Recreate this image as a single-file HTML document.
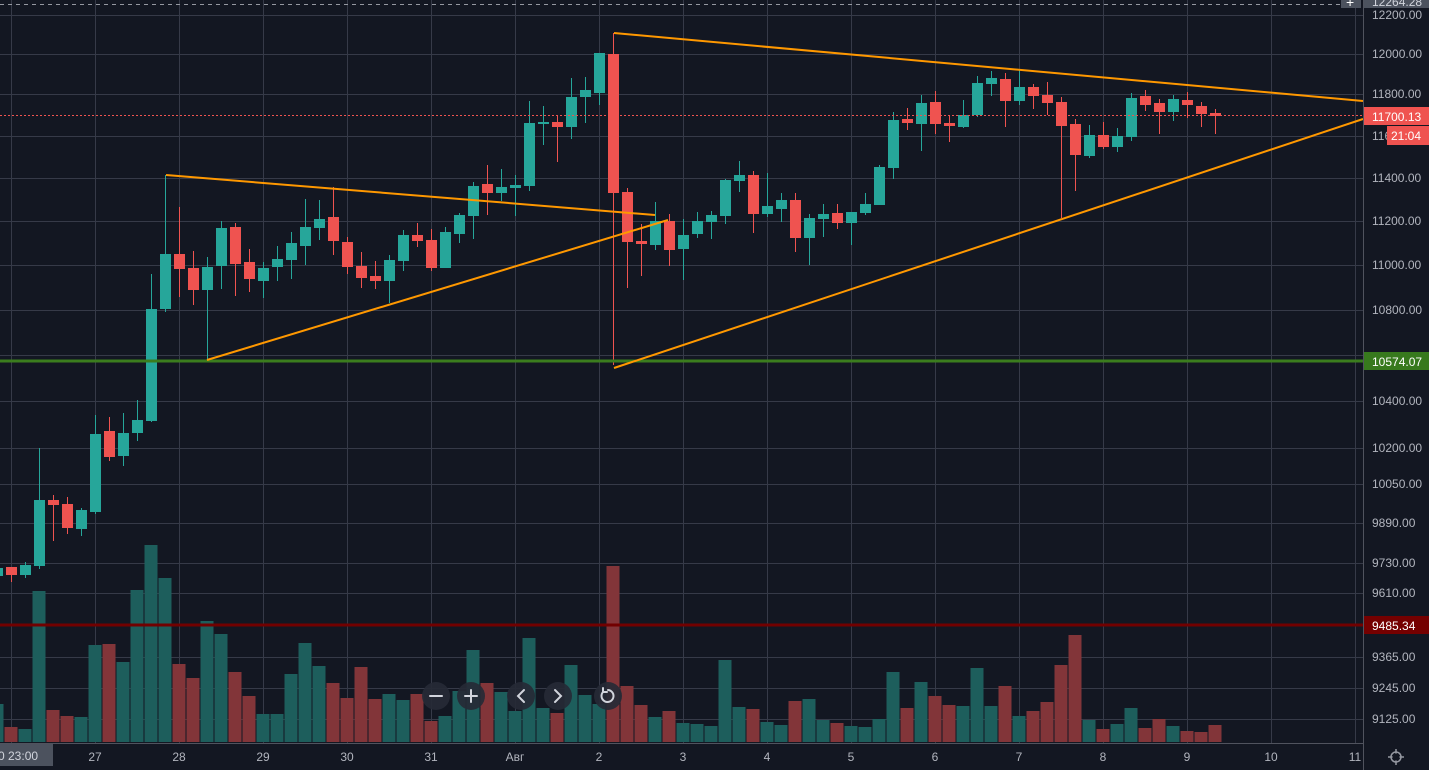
<!DOCTYPE html>
<html><head><meta charset="utf-8">
<style>
html,body{margin:0;padding:0;background:#131722;width:1429px;height:770px;overflow:hidden;font-family:"Liberation Sans","Noto Sans CJK SC",sans-serif;}
svg{display:block}
</style></head><body>
<svg id="c" width="1429" height="770" xmlns="http://www.w3.org/2000/svg" font-family="Liberation Sans, sans-serif">
<rect width="1429" height="770" fill="#131722"/>
<g id="grid" stroke="#363a48" stroke-width="1"></g>
<g id="vol"></g>
<g id="cnd"></g>
<!-- horizontal level lines -->
<line x1="0" y1="361" x2="1363" y2="361" stroke="#3b7d1e" stroke-width="3"/>
<line x1="0" y1="625" x2="1363" y2="625" stroke="#720000" stroke-width="3"/>
<line x1="0" y1="115.5" x2="1363" y2="115.5" stroke="#ef5350" stroke-width="1" stroke-dasharray="2,2"/>
<line x1="0" y1="4.5" x2="1340" y2="4.5" stroke="#9598a1" stroke-width="1" stroke-dasharray="4,4"/>
<!-- trend lines -->
<g stroke="#ff9800" stroke-width="2" fill="none">
<line x1="166" y1="175" x2="655" y2="215"/>
<line x1="207" y1="360" x2="668" y2="220"/>
<line x1="614" y1="33" x2="1363" y2="101"/>
<line x1="614" y1="368" x2="1363" y2="119"/>
</g>
<!-- axes -->
<line x1="1363.5" y1="0" x2="1363.5" y2="770" stroke="#50535e" stroke-width="1"/>
<line x1="0" y1="743.5" x2="1363" y2="743.5" stroke="#50535e" stroke-width="1"/>
<g id="plab" fill="#b2b5be" font-size="12"></g>
<!-- price tags -->
<rect x="1364" y="0" width="65" height="8" fill="#4c525e"/>
<text x="1372" y="6" fill="#d1d4dc" font-size="12">12264.28</text>
<rect x="1341" y="-2" width="20" height="10" fill="#4c525e"/>
<text x="1346" y="7" fill="#fff" font-size="14">+</text>
<rect x="1364" y="107" width="65" height="18" fill="#ef5350"/>
<text x="1372" y="121" fill="#fff" font-size="12">11700.13</text>
<rect x="1387" y="126" width="42" height="19" fill="#ef5350"/>
<text x="1391" y="140" fill="#fff" font-size="12">21:04</text>
<rect x="1364" y="352" width="65" height="18" fill="#37791d"/>
<text x="1372" y="366" fill="#fff" font-size="12">10574.07</text>
<rect x="1364" y="616" width="65" height="18" fill="#750000"/>
<text x="1372" y="630" fill="#fff" font-size="12">9485.34</text>
<g id="tlab" fill="#b2b5be" font-size="12" text-anchor="middle"></g>
<rect x="0" y="744" width="53" height="22" fill="#4c525e"/>
<text x="-2" y="760" fill="#d1d4dc" font-size="12">0  23:00</text>
<!-- gear -->
<circle cx="1396" cy="757" r="5" fill="none" stroke="#9598a1" stroke-width="1.5"/>
<g stroke="#9598a1" stroke-width="1.5"><line x1="1396" y1="749" x2="1396" y2="765"/><line x1="1388" y1="757" x2="1404" y2="757"/></g>
<circle cx="1396" cy="757" r="3.5" fill="#131722"/>
<!-- nav buttons -->
<g fill="#262a36" fill-opacity="0.92">
<circle cx="436" cy="696" r="14"/><circle cx="471" cy="696" r="14"/>
<circle cx="521" cy="696" r="14"/><circle cx="558" cy="696" r="14"/><circle cx="608" cy="696" r="14"/>
</g>
<g stroke="#d1d4dc" stroke-width="2" fill="none" stroke-linecap="round">
<line x1="430" y1="696" x2="442" y2="696"/>
<line x1="465" y1="696" x2="477" y2="696"/><line x1="471" y1="690" x2="471" y2="702"/>
<polyline points="524,690 518,696 524,702"/>
<polyline points="555,690 561,696 555,702"/>
<path d="M603 692 A6 6 0 1 0 608 690"/><polyline points="603,688 603,692 607,692"/>
</g>
</svg>
<script>
var NS="http://www.w3.org/2000/svg";
function el(p,t,a,txt){var e=document.createElementNS(NS,t);for(var k in a)e.setAttribute(k,a[k]);if(txt)e.textContent=txt;document.getElementById(p).appendChild(e);}
var hy=[15,54,94,136,178,221,265,310,355,401,448,484,523,563,593,625,657,688,719];
hy.forEach(function(y){el("grid","line",{x1:0,y1:y+.5,x2:1363,y2:y+.5});});
for(var x=11;x<1363;x+=84){el("grid","line",{x1:x+.5,y1:0,x2:x+.5,y2:743});}
var pl=[[15,"12200.00"],[54,"12000.00"],[94,"11800.00"],[136,"11600.00"],[178,"11400.00"],[221,"11200.00"],[265,"11000.00"],[310,"10800.00"],[401,"10400.00"],[448,"10200.00"],[484,"10050.00"],[523,"9890.00"],[563,"9730.00"],[593,"9610.00"],[657,"9365.00"],[688,"9245.00"],[719,"9125.00"]];
pl.forEach(function(p){el("plab","text",{x:1372,y:p[0]+4},p[1]);});
var tl=["27","28","29","30","31","Авг","2","3","4","5","6","7","8","9","10","11"];
tl.forEach(function(t,i){el("tlab","text",{x:95+84*i,y:761},t);});
var D=[
[-1,568,576,565,578,"g",704],[0,567,575,567,582,"r",727],[1,565,575,562,578,"g",729],[2,500,566,448,569,"g",591],
[3,500,505,495,541,"r",710],[4,504,528,497,534,"r",716],[5,510,529,508,536,"g",717],[6,434,512,415,514,"g",645],
[7,431,457,417,461,"r",644],[8,433,456,413,466,"g",662],[9,420,433,400,441,"g",590],[10,309,421,274,422,"g",545],
[11,254,309,175,312,"g",578],[12,254,269,207,297,"r",664],[13,268,290,251,305,"r",678],[14,267,290,257,359,"g",621],
[15,228,266,221,289,"g",634],[16,227,264,223,296,"r",672],[17,262,279,249,292,"r",696],[18,268,281,262,298,"g",714],
[19,259,267,246,281,"g",714],[20,243,260,232,279,"g",674],[21,227,246,199,265,"g",643],[22,219,228,200,240,"g",666],
[23,217,241,187,255,"r",683],[24,242,267,237,274,"r",698],[25,266,278,252,288,"r",667],[26,276,281,261,289,"r",699],
[27,260,281,255,303,"g",694],[28,235,261,230,271,"g",700],[29,235,241,223,247,"r",694],[30,240,268,229,271,"r",721],
[31,232,268,227,268,"g",716],[32,215,234,213,243,"g",691],[33,186,216,182,239,"g",650],[34,184,193,165,215,"r",683],
[35,187,193,169,201,"g",692],[36,185,188,175,216,"g",711],[37,123,186,101,191,"g",638],[38,122,124,106,145,"g",708],
[39,122,127,115,162,"r",713],[40,97,127,78,139,"g",665],[41,90,97,77,123,"g",695],[42,53,93,53,105,"g",704],
[43,54,193,33,365,"r",566],[44,192,242,188,288,"r",686],[45,241,244,224,276,"r",705],[46,221,245,202,250,"g",717],
[47,221,250,214,266,"r",711],[48,235,249,219,280,"g",723],[49,221,234,212,238,"g",724],[50,215,222,211,239,"g",726],
[51,180,216,179,224,"g",660],[52,175,181,161,192,"g",707],[53,175,214,171,233,"r",709],[54,206,214,173,217,"g",722],
[55,200,209,193,222,"g",725],[56,200,238,193,252,"r",701],[57,218,238,214,265,"g",699],[58,214,219,204,237,"g",720],
[59,213,223,204,229,"r",723],[60,212,223,212,245,"g",726],[61,204,213,193,215,"g",727],[62,167,205,165,205,"g",719],
[63,120,168,112,179,"g",672],[64,119,123,108,130,"r",708],[65,103,124,95,151,"g",682],[66,102,124,91,134,"r",696],
[67,123,126,116,142,"r",705],[68,115,127,100,128,"g",706],[69,83,115,76,117,"g",668],[70,78,84,71,96,"g",706],
[71,79,101,73,127,"r",686],[72,87,101,69,105,"g",716],[73,87,96,84,109,"r",711],[74,95,103,82,115,"r",702],
[75,102,126,97,218,"r",665],[76,124,155,119,191,"r",635],[77,135,156,125,158,"g",720],[78,135,147,122,149,"r",729],
[79,136,147,128,152,"g",724],[80,98,137,93,141,"g",708],[81,96,105,90,111,"r",728],[82,103,112,99,134,"r",719],
[83,99,112,95,121,"g",726],[84,100,105,92,118,"r",731],[85,106,114,102,127,"r",732],[86,113,116,109,134,"r",725]];
D.forEach(function(d){
 var cx=Math.round(11.3+14*d[0]);
 var col=d[5]=="g"?"#26a69a":"#ef5350", vc=d[5]=="g"?"#1d5e5c":"#823539";
 el("vol","rect",{x:cx-6.5,y:d[6],width:13,height:742-d[6],fill:vc});
 el("cnd","rect",{x:cx,y:d[3],width:1,height:d[4]-d[3],fill:col});
 el("cnd","rect",{x:cx-5,y:d[1],width:11,height:Math.max(2,d[2]-d[1]),fill:col});
});
</script>
</body></html>
